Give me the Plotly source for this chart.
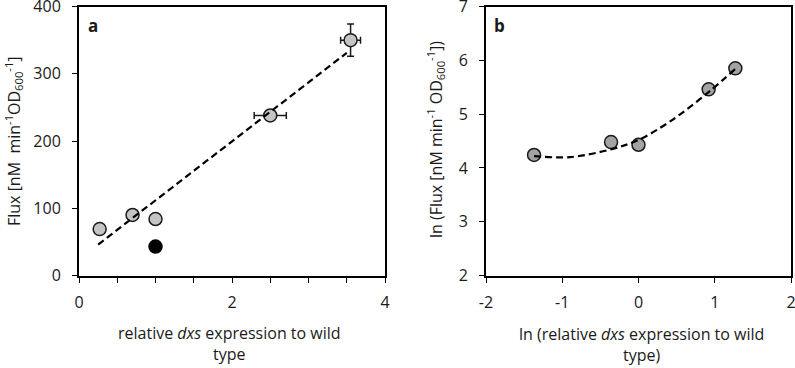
import plotly.graph_objects as go

# Panel a data
expr_a = [0.27, 0.70, 1.00, 2.50, 3.55]
flux_a = [69, 90, 84, 238, 350]
expr_err_a = [0, 0, 0, 0.21, 0.13]
flux_err_a = [0, 0, 0, 0, 24]
wt_expr = [1.00]
wt_flux = [43]
trend_x_a = [0.25, 3.50]
trend_y_a = [46, 331]
xticks_a = [0, 0.5, 1, 1.5, 2, 2.5, 3, 3.5, 4]
xticklabels_a = ["0", "", "", "", "2", "", "", "", "4"]
yticks_a = [0, 100, 200, 300, 400]

# Panel b data
ln_expr_b = [-1.37, -0.36, 0.00, 0.92, 1.27]
ln_flux_b = [4.24, 4.48, 4.43, 5.46, 5.85]
curve_x_b = [-1.37, -0.90, -0.35, 0.00, 0.41, 0.92, 1.27]
curve_y_b = [4.22, 4.20, 4.35, 4.52, 4.86, 5.41, 5.84]
xticks_b = [-2, -1, 0, 1, 2]
xticklabels_b = ["-2", "-1", "0", "1", "2"]
yticks_b = [2, 3, 4, 5, 6, 7]

FONT = "Open Sans"
TXT = "#1a1a1a"
FS = 16

fig = go.Figure()

fig.add_trace(go.Scatter(
    x=expr_a, y=flux_a, mode="markers",
    marker=dict(size=13, color="#c4c4c4", line=dict(color="#1a1a1a", width=1.5)),
    error_x=dict(type="data", array=expr_err_a, color="#1a1a1a", thickness=1.5, width=3.5),
    error_y=dict(type="data", array=flux_err_a, color="#1a1a1a", thickness=1.5, width=3.5),
    xaxis="x", yaxis="y", showlegend=False))
fig.add_trace(go.Scatter(
    x=wt_expr, y=wt_flux, mode="markers",
    marker=dict(size=13, color="#000000", line=dict(color="#000000", width=1.5)),
    xaxis="x", yaxis="y", showlegend=False))
fig.add_trace(go.Scatter(
    x=trend_x_a, y=trend_y_a, mode="lines",
    line=dict(color="#000000", width=2.2, dash="7px,4px"),
    xaxis="x", yaxis="y", showlegend=False))

fig.add_trace(go.Scatter(
    x=ln_expr_b, y=ln_flux_b, mode="markers",
    marker=dict(size=13, color="#a3a3a3", line=dict(color="#1a1a1a", width=1.5)),
    xaxis="x2", yaxis="y2", showlegend=False))
fig.add_trace(go.Scatter(
    x=curve_x_b, y=curve_y_b, mode="lines",
    line=dict(color="#000000", width=2.2, dash="7px,4px", shape="spline", smoothing=1.0),
    xaxis="x2", yaxis="y2", showlegend=False))

axis_common = dict(showline=True, linecolor="#000000", linewidth=2, mirror=True,
                   ticks="outside", ticklen=5, tickwidth=1, tickcolor="#000000",
                   showgrid=False, zeroline=False, ticklabeloverflow="allow",
                   automargin=False,
                   tickfont=dict(family=FONT, size=FS, color=TXT))

ydom = [1 - 275.5 / 368, 1 - 6.5 / 368]
fig.update_layout(
    template="none",
    width=795, height=368,
    margin=dict(l=0, r=0, t=0, b=0, autoexpand=False),
    paper_bgcolor="white", plot_bgcolor="white",
    xaxis=dict(domain=[79 / 795, 385 / 795], range=[0, 4], tickvals=xticks_a,
               ticktext=xticklabels_a, anchor="y", ticklabelstandoff=6, **axis_common),
    yaxis=dict(domain=ydom, range=[0, 400], tickvals=yticks_a, anchor="x",
               ticklabelstandoff=8, **axis_common),
    xaxis2=dict(domain=[486 / 795, 791 / 795], range=[-2, 2], tickvals=xticks_b,
                ticktext=xticklabels_b, anchor="y2", ticklabelstandoff=6, **axis_common),
    yaxis2=dict(domain=ydom, range=[2, 7], tickvals=yticks_b, anchor="x2",
                ticklabelstandoff=8, **axis_common),
)

ann_font = dict(family=FONT, size=FS, color=TXT)
fig.add_annotation(text="Flux [nM  min<sup>-1</sup>OD<sub>600</sub><sup>-1</sup>]",
                   xref="paper", yref="paper", x=13 / 795, y=1 - 141 / 368,
                   textangle=-90, showarrow=False, font=ann_font,
                   xanchor="center", yanchor="middle")
fig.add_annotation(text="relative <i>dxs</i> expression to wild<br>type",
                   xref="paper", yref="paper", x=229 / 795, y=1 - 343 / 368,
                   showarrow=False, font=ann_font, xanchor="center", yanchor="middle")
fig.add_annotation(text="ln (Flux [nM min<sup>-1</sup> OD<sub>600</sub><sup>-1</sup>])",
                   xref="paper", yref="paper", x=435 / 795, y=1 - 140 / 368,
                   textangle=-90, showarrow=False, font=ann_font,
                   xanchor="center", yanchor="middle")
fig.add_annotation(text="ln (relative <i>dxs</i> expression to wild<br>type)",
                   xref="paper", yref="paper", x=641 / 795, y=1 - 344 / 368,
                   showarrow=False, font=ann_font, xanchor="center", yanchor="middle")
fig.add_annotation(text="<b>a</b>", xref="paper", yref="paper", x=93 / 795, y=1 - 25 / 368,
                   showarrow=False, font=dict(family=FONT, size=17, color=TXT),
                   xanchor="center", yanchor="middle")
fig.add_annotation(text="<b>b</b>", xref="paper", yref="paper", x=499 / 795, y=1 - 25 / 368,
                   showarrow=False, font=dict(family=FONT, size=17, color=TXT),
                   xanchor="center", yanchor="middle")

fig.write_html("out.html", config={"displayModeBar": False},
               post_script="document.body.style.margin='0';document.body.style.overflow='hidden';")
